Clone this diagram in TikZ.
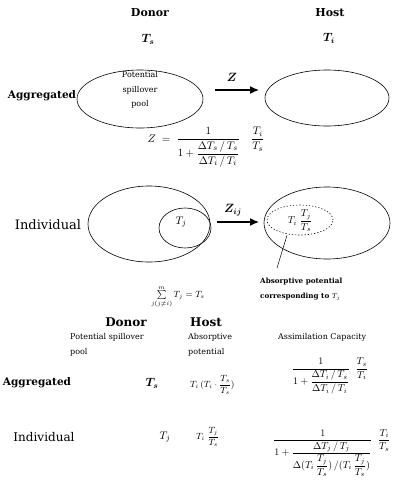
\documentclass[tikz,border=0pt]{standalone}
\usepackage{amsmath}
\usepackage{fontspec}
\setmainfont{DejaVu Serif}
\usetikzlibrary{shapes.geometric,arrows.meta}
\begin{document}
\begin{tikzpicture}[x=1pt,y=-1pt,
  oval/.style={draw, ellipse, line width=0.6pt, inner sep=0pt},
  dotoval/.style={oval, dash pattern=on 1.2pt off 2pt},
  arr/.style={-{Latex[length=9pt,width=8pt]}, line width=1.3pt},
  head/.style={font=\fontsize{11}{13}\selectfont\bfseries},
  rowlab/.style={font=\fontsize{10.5}{13}\selectfont\bfseries},
  indlab/.style={font=\fontsize{13}{15}\selectfont},
  small/.style={font=\fontsize{8}{10}\selectfont, anchor=west, inner sep=0pt},
  note/.style={font=\fontsize{7.2}{9}\selectfont\bfseries, anchor=west, inner sep=0pt},
  bigm/.style={font=\fontsize{12}{14}\selectfont},
  frm/.style={font=\fontsize{10}{12}\selectfont, inner sep=0pt},
  leader/.style={line width=0.5pt}
]
\clip (0,0) rectangle (392,491);
% ---- top: aggregated ----
\node[head] (donor) at (150,13) {Donor};
\node[head] (host) at (330,13) {Host};
\node[bigm] (ts) at (148,39) {$\boldsymbol{T_s}$};
\node[bigm] (ti) at (329,38) {$\boldsymbol{T_i}$};
\node[oval, minimum width=126pt, minimum height=58pt] (poolA) at (140,99) {};
\node[align=center, font=\fontsize{8}{14.5}\selectfont] (pooltext) at (140,90) {Potential\\spillover\\pool};
\node[rowlab] (aggA) at (42,96) {Aggregated};
\node[oval, minimum width=124pt, minimum height=56pt] (hostA) at (327,98) {};
\coordinate (zs) at (215,90);
\coordinate (ze) at (259,90);
\draw[arr] (zs) -- (ze);
\node[bigm] (zlab) at (232,77) {$\boldsymbol{Z}$};
\node[frm, font=\fontsize{11}{13}\selectfont] (zform) at (206,147) {$Z\;=\;\dfrac{1}{1+\dfrac{\Delta T_s\,/\,T_s}{\Delta T_i\,/\,T_i}}\quad\dfrac{T_i}{T_s}$};
% ---- middle: individual ----
\node[indlab] (indI) at (48,225) {Individual};
\node[oval, minimum width=122pt, minimum height=76pt] (donorI) at (149,224) {};
\node[oval, minimum width=52pt, minimum height=40pt] (tjoval) at (185,228) {};
\node[font=\fontsize{11}{12}\selectfont] (tj) at (181,222) {$T_j$};
\coordinate (zis) at (217,222);
\coordinate (zie) at (259,222);
\draw[arr] (zis) -- (zie);
\node[bigm] (zilab) at (233,210) {$\boldsymbol{Z_{ij}}$};
\node[oval, minimum width=126pt, minimum height=72pt] (hostI) at (327,223) {};
\node[dotoval, minimum width=66pt, minimum height=30pt] (absoval) at (300,220) {};
\node[frm] (abst) at (300,221) {$T_i\;\dfrac{T_j}{T_s}$};
\coordinate (ld) at (277,268);
\draw[leader] ([xshift=-13pt]absoval.south) -- (ld);
\node[note] (abs1) at (260,282) {Absorptive potential};
\node[note] (abs2) at (260,297) {corresponding to $T_j$};
\node[frm, font=\fontsize{9}{11}\selectfont] (sum) at (178,297) {$\sum\limits_{j(j\neq i)}^{m} T_j = T_s$};
% ---- table ----
\node[head, font=\fontsize{12}{14}\selectfont\bfseries] (donorT) at (126,322) {Donor};
\node[head, font=\fontsize{12}{14}\selectfont\bfseries] (hostT) at (206,322) {Host};
\node[small] (psp) at (70,337) {Potential spillover};
\node[small] (pool) at (70,352) {pool};
\node[small] (absp) at (188,337) {Absorptive};
\node[small] (pot) at (188,352) {potential};
\node[small] (assim) at (278,337) {Assimilation Capacity};
\node[rowlab] (aggT) at (37,383) {Aggregated};
\node[bigm] (tsT) at (152,383) {$\boldsymbol{T_s}$};
\node[frm, anchor=west, font=\fontsize{9}{11}\selectfont] (absA) at (190,385) {$T_i\,(T_i\cdot\dfrac{T_s}{T_s})$};
\node[frm] (asA) at (330,376) {$\dfrac{1}{1+\dfrac{\Delta T_i\,/\,T_s}{\Delta T_i\,/\,T_i}}\;\;\dfrac{T_s}{T_i}$};
\node[indlab, font=\fontsize{12}{14}\selectfont] (indT) at (44,437) {Individual};
\node[font=\fontsize{11}{13}\selectfont] (tjT) at (165,437) {$T_j$};
\node[frm, anchor=west, font=\fontsize{9}{11}\selectfont] (absI) at (196,437) {$T_i\;\dfrac{T_j}{T_s}$};
\node[frm, anchor=west] (asI) at (273,453) {$\dfrac{1}{1+\dfrac{\Delta T_j\,/\,T_j}{\Delta(T_i\,\dfrac{T_j}{T_s})\,/(T_i\,\dfrac{T_j}{T_s})}}\;\;\dfrac{T_i}{T_s}$};
\end{tikzpicture}
\end{document}
